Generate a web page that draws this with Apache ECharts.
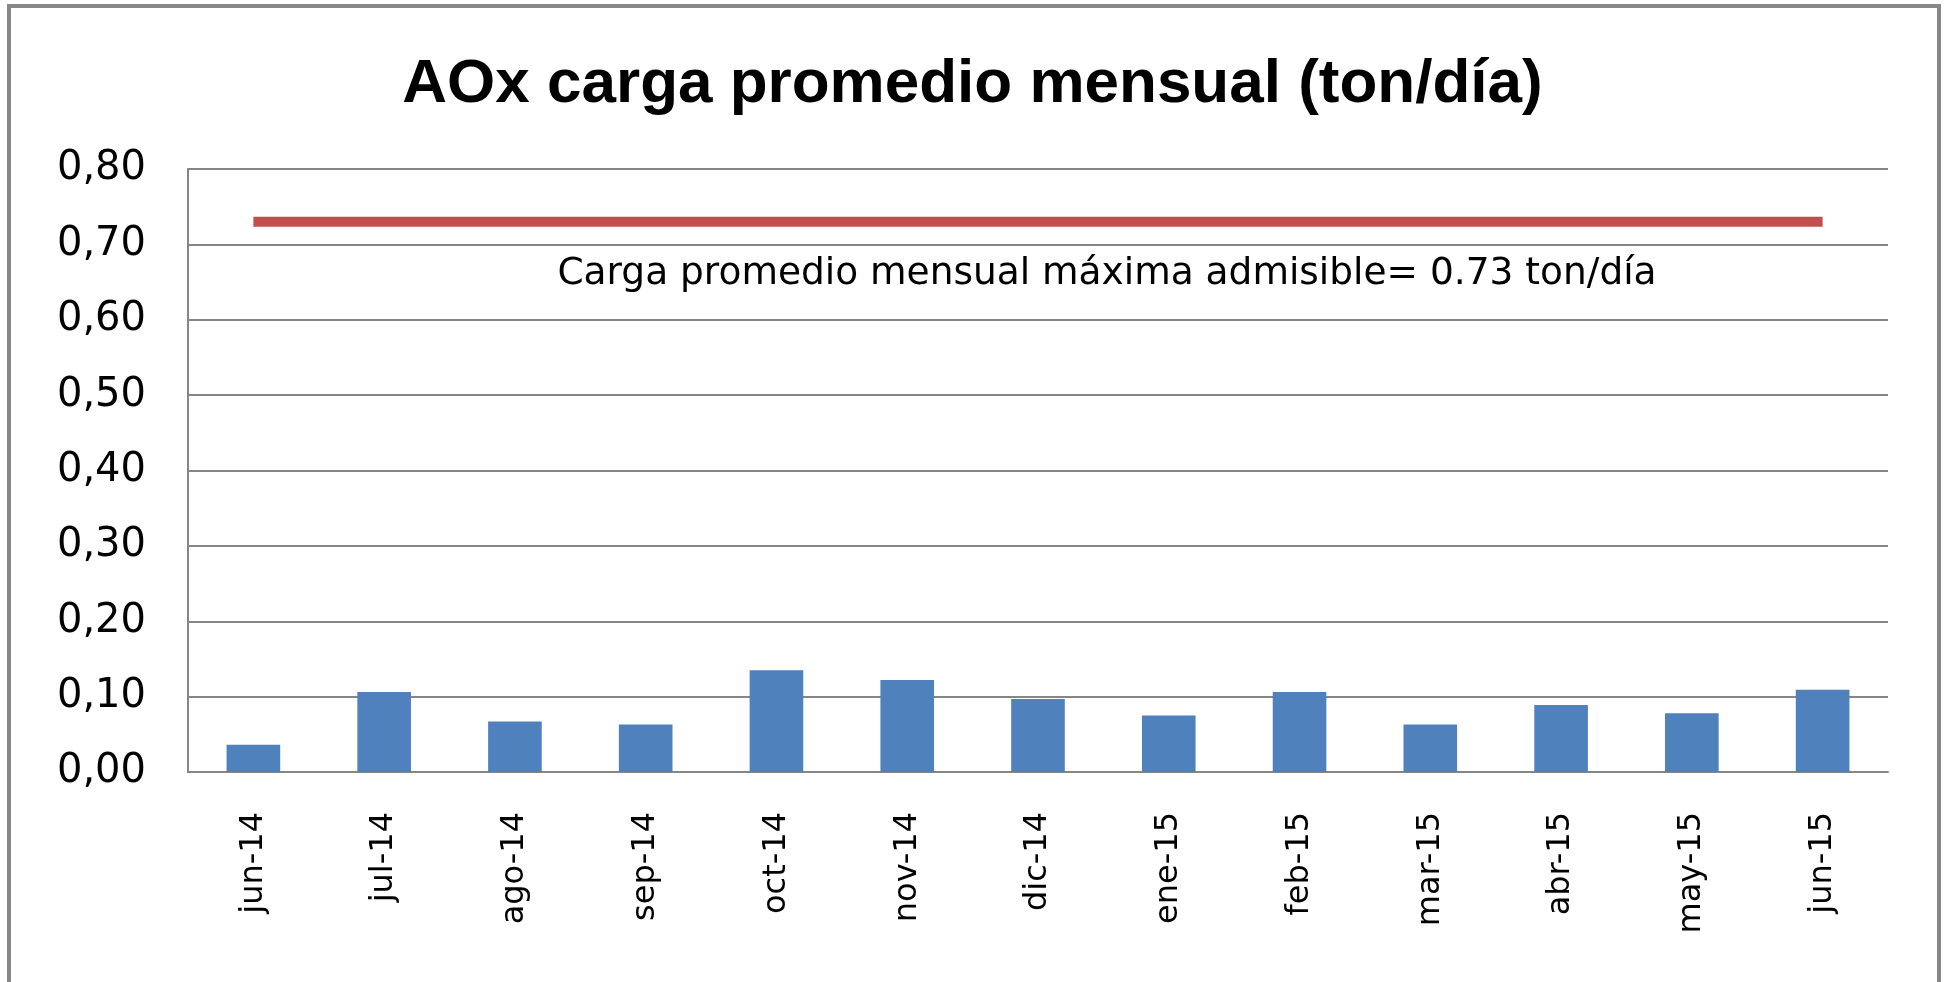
<!DOCTYPE html>
<html>
<head>
<meta charset="utf-8">
<title>AOx carga promedio mensual</title>
<script src="https://cdn.jsdelivr.net/npm/echarts@6/dist/echarts.min.js"></script>
<style>
  html, body { margin: 0; padding: 0; background: #fff; }
  #chart { width: 1945px; height: 982px; }
</style>
</head>
<body>
<div id="chart"></div>
<script>
// datos
const meses = ['jun-14', 'jul-14', 'ago-14', 'sep-14', 'oct-14', 'nov-14', 'dic-14',
  'ene-15', 'feb-15', 'mar-15', 'abr-15', 'may-15', 'jun-15']
const cargaMensual = [0.036, 0.106, 0.067, 0.063, 0.135, 0.122, 0.097,
  0.075, 0.106, 0.063, 0.089, 0.078, 0.109]
const cargaMaxima = [0.73, 0.73, 0.73, 0.73, 0.73, 0.73, 0.73,
  0.73, 0.73, 0.73, 0.73, 0.73, 0.73]
const textoLimite = 'Carga promedio mensual máxima admisible= 0.73 ton/día'

const chart = echarts.init(document.getElementById('chart'))

const option = {
  animation: false,
  backgroundColor: '#fff',
  title: {
    text: 'AOx carga promedio mensual (ton/día)',
    left: 'center',
    top: 49,
    textStyle: {
      fontFamily: 'Liberation Sans',
      fontWeight: 'bold',
      fontSize: 62,
      color: '#000'
    }
  },
  grid: {
    left: 188,
    right: 57,
    top: 169,
    bottom: 210
  },
  xAxis: {
    type: 'category',
    data: meses,
    axisTick: { show: false },
    axisLine: { lineStyle: { color: '#868686', width: 2 } },
    axisLabel: {
      rotate: 90,
      margin: 40,
      fontFamily: 'DejaVu Sans',
      fontSize: 32,
      color: '#000'
    }
  },
  yAxis: {
    type: 'value',
    min: 0,
    max: 0.8,
    interval: 0.1,
    axisLine: { show: true, lineStyle: { color: '#868686', width: 2 } },
    axisTick: { show: false },
    splitLine: { lineStyle: { color: '#868686', width: 2 } },
    axisLabel: {
      margin: 42,
      fontFamily: 'DejaVu Sans',
      fontSize: 40,
      color: '#000',
      formatter: v => v.toFixed(2).replace('.', ',')
    }
  },
  series: [
    {
      type: 'bar',
      data: cargaMensual,
      barWidth: '41%',
      itemStyle: { color: '#4F81BD' }
    },
    {
      type: 'line',
      data: cargaMaxima,
      symbol: 'none',
      lineStyle: { color: '#C0504D', width: 10 },
      z: 3
    }
  ],
  graphic: [
    {
      type: 'rect',
      shape: { x: 9, y: 6, width: 1930, height: 1000 },
      style: { fill: 'none', stroke: '#888', lineWidth: 4 },
      silent: true
    },
    {
      type: 'text',
      x: 1107,
      y: 274,
      style: {
        text: textoLimite,
        fontFamily: 'DejaVu Sans',
        fontSize: 37.5,
        fill: '#000',
        align: 'center',
        verticalAlign: 'middle'
      }
    }
  ]
}

chart.setOption(option)
</script>
</body>
</html>
